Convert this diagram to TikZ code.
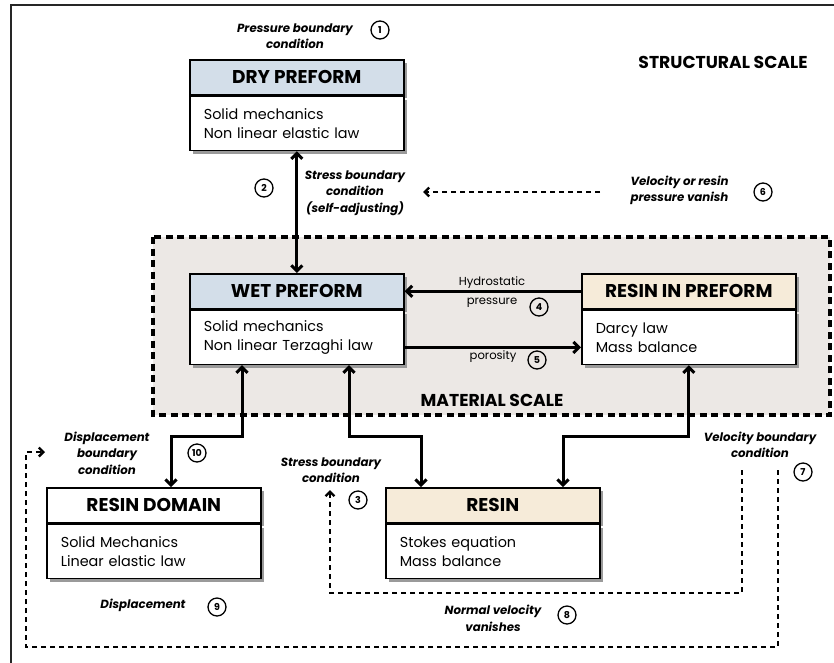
\documentclass[tikz,border=0pt]{standalone}
\usepackage{fontspec}
\setmainfont{Poppins}
\usetikzlibrary{arrows.meta,shadows,calc}
\definecolor{hblue}{HTML}{D3DEE9}
\definecolor{hbeige}{HTML}{F6EBD9}
\definecolor{region}{HTML}{ECE8E5}
\definecolor{shadowgray}{HTML}{9A9A9A}
\begin{document}
\begin{tikzpicture}[x=1pt,y=-1pt,
  shad/.style={drop shadow={shadow xshift=3.5pt,shadow yshift=-3.5pt,fill=shadowgray,opacity=1}},
  hdr/.style={shad,draw=black,line width=1.6pt,minimum width=214pt,minimum height=35pt,inner sep=0pt,
    font=\bfseries\fontsize{18.5}{20}\selectfont},
  bdy/.style={shad,draw=black,line width=1.6pt,fill=white,minimum width=214pt,minimum height=54pt,
    inner xsep=14pt,inner ysep=0pt,text width=186pt,align=left,font=\fontsize{14.4}{19}\selectfont},
  num/.style={circle,draw,line width=1.3pt,minimum size=18pt,inner sep=0pt,font=\bfseries\fontsize{9.5}{9.5}\selectfont},
  lab/.style={align=center,font=\bfseries\itshape\fontsize{11.8}{16.5}\selectfont},
  plain/.style={align=center,font=\fontsize{11.6}{19}\selectfont},
  scaletitle/.style={font=\bfseries\fontsize{17.2}{20}\selectfont},
  arr/.style={line width=3pt,{Straight Barb[length=5.5pt,width=11pt]}-{Straight Barb[length=5.5pt,width=11pt]}},
  arrl/.style={line width=3pt,-{Straight Barb[length=5.5pt,width=11pt]}},
  dsh/.style={line width=2.4pt,dash pattern=on 5pt off 4pt,-{Straight Barb[length=4.5pt,width=9pt]}},
]
\useasboundingbox (0,0) rectangle (834,662);
\clip (0,0) rectangle (834,662);
\draw[line width=1.6pt,black!85] (11,5) rectangle (850,680);
% material region
\draw[line width=3.2pt,fill=region,dash pattern=on 7pt off 4.5pt] (153,237) rectangle (830,415);
% boxes
\node[hdr,fill=hblue,anchor=north west] (dryH) at (189,59) {DRY PREFORM};
\node[bdy,anchor=north] (dryB) at (dryH.south) {Solid mechanics\\Non linear elastic law};
\node[hdr,fill=hblue,anchor=north west] (wetH) at (189,273) {WET PREFORM};
\node[bdy,anchor=north] (wetB) at (wetH.south) {Solid mechanics\\Non linear Terzaghi law};
\node[hdr,fill=hbeige,anchor=north west] (ripH) at (581,273) {RESIN IN PREFORM};
\node[bdy,anchor=north] (ripB) at (ripH.south) {Darcy law\\Mass balance};
\node[hdr,fill=white,anchor=north west] (rdH) at (46,487) {RESIN DOMAIN};
\node[bdy,anchor=north] (rdB) at (rdH.south) {Solid Mechanics\\Linear elastic law};
\node[hdr,fill=hbeige,anchor=north west] (resH) at (385,487) {RESIN};
\node[bdy,anchor=north] (resB) at (resH.south) {Stokes equation\\Mass balance};
% scale titles
\node[scaletitle] (ss) at (723,62) {STRUCTURAL SCALE};
\node[scaletitle] (ms) at (492,400) {MATERIAL SCALE};
% labels
\node[lab] (l1) at (295,36) {Pressure boundary\\condition};
\node[num] (n1) at (380,30) {1};
\node[lab] (l2) at (355,193) {Stress boundary\\condition\\(self-adjusting)};
\node[num] (n2) at (264,188) {2};
\node[lab,align=left,anchor=west] (l6) at (627,190.5) {Velocity or resin\\pressure vanish};
\node[num] (n6) at (763,192) {6};
\node[plain] (l4) at (492,292.5) {Hydrostatic\\pressure};
\node[num] (n4) at (539,307) {4};
\node[plain] (l5) at (493,357) {porosity};
\node[num] (n5) at (537,360) {5};
\node[lab] (l10) at (107,453) {Displacement\\boundary\\condition};
\node[num] (n10) at (197,453) {10};
\node[lab] (l3) at (331,470) {Stress boundary\\condition};
\node[num] (n3) at (358,500) {3};
\node[lab] (l7) at (760,445) {Velocity boundary\\condition};
\node[num] (n7) at (803,472) {7};
\node[lab] (l8) at (493,618.5) {Normal velocity\\vanishes};
\node[num] (n8) at (567,615) {8};
\node[lab] (l9) at (143,605) {Displacement};
\node[num] (n9) at (217,607) {9};
% coordinates for free ends
\coordinate (d6a) at (600,192);
\coordinate (d6b) at (423,192);
\coordinate (d3a) at (742,470);
\coordinate (d3b) at (330,490);
\coordinate (d9a) at (778,470);
\coordinate (d9b) at (45,452);
% solid connectors
\draw[arr] (dryB.south) -- (wetH.north);
\draw[arrl] (ripH.west) -- (wetH.east);
\draw[arrl] ([yshift=-10pt]wetB.east) -- ([yshift=-10pt]ripB.west);
\draw[arr] ([xshift=53pt]wetB.south west) -- ++(0,71) -| ([xshift=125pt]rdH.north west);
\draw[arr] ([xshift=160pt]wetB.south west) -- ++(0,71) -| ([xshift=36pt]resH.north west);
\draw[arr] (ripB.south) -- ++(0,71) -| ([xshift=178pt]resH.north west);
% dashed connectors
\draw[dsh] (d6a) -- (d6b);
\draw[dsh] (d3a) |- (330,593) -- (d3b);
\draw[dsh] (d9a) |- (26,647) |- (d9b);
\end{tikzpicture}
\end{document}
